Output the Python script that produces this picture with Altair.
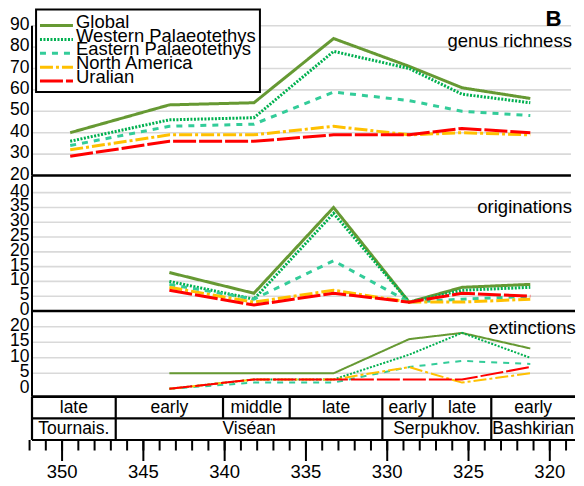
import altair as alt
import pandas as pd

FONT = "Liberation Sans"

# ---------------- data ----------------
AGES = [349.5, 343.4, 338.2, 333.3, 328.65, 325.4, 321.2]       # Ma
SERIES = ["Global", "Western Palaeotethys", "Eastern Palaeotethys", "North America", "Uralian"]
COLORS = ["#669933", "#00B050", "#33CC99", "#FFC000", "#FF0000"]
DASHES = [[1, 0], [2, 1.5], [6, 6], [13, 3, 3, 3], [23, 3]]

RICHNESS = {
    "Global": [40, 53, 54, 84, 71, 61, 56],
    "Western Palaeotethys": [36, 46, 47, 78, 70, 58, 54],
    "Eastern Palaeotethys": [34, 43, 44, 59, 55, 50, 48],
    "North America": [32, 39, 39, 43, 39, 40, 39],
    "Uralian": [29, 36, 36, 39, 39, 42, 40],
}
ORIG_AGES = [343.4, 338.2, 333.3, 328.65, 325.4, 321.2]
ORIGINATIONS = {
    "Global": [13, 6, 35, 3, 8, 9],
    "Western Palaeotethys": [10, 4, 33, 3, 7, 8],
    "Eastern Palaeotethys": [9, 4, 17, 3, 4, 5],
    "North America": [8, 3, 7, 3, 3, 4],
    "Uralian": [7, 2, 6, 3, 6, 5],
}
EXT_AGES = [343.4, 338.2, 333.3, 328.65, 325.4, 321.2]
EXTINCTIONS = {
    "Global": [5, 5, 5, 16, 18, 13],
    "Western Palaeotethys": [0, 3, 3, 11, 18, 10],
    "Eastern Palaeotethys": [0, 2, 2, 7, 9, 8],
    "North America": [0, 3, 3, 7, 2, 5],
    "Uralian": [0, 3, 3, 3, 3, 7],
}

TOP_TICKS = [90, 80, 70, 60, 50, 40, 30, 20]
TOP_GRID = [90, 80, 70, 60, 50, 40, 30]
MID_TICKS = [40, 35, 30, 25, 20, 15, 10, 5, 0]
MID_GRID = [40, 35, 30, 25, 20, 15, 10, 5]
BOT_TICKS = [20, 15, 10, 5, 0]
BOT_GRID = [20, 15, 10, 5]

SUBSTAGES = ["late", "early", "middle", "late", "early", "late", "early"]
STAGES = ["Tournais.", "Viséan", "Serpukhov.", "Bashkirian"]
X_LEFT = 351.85
X_GRID_END = 318.7
X_RIGHT = 318.45
SUB_EDGES = [X_LEFT, 346.7, 340.1, 336.0, 330.3, 327.2, 323.6, X_RIGHT]
STAGE_EDGES = [X_LEFT, 346.7, 330.3, 323.6, X_RIGHT]

MINOR_TICKS = list(range(352, 318, -1))
MAJOR_TICKS = [350, 345, 340, 335, 330, 325, 320]

# legend frame (x in Ma, y in legend rows)
LEG_BOX = (351.60, 337.83, -1.16, 4.8)
LEG_SYM = (351.36, 349.33)
LEG_TXT = 349.14

# ---------------- scales ----------------
XS = alt.Scale(domain=[X_LEFT, X_RIGHT], range=[24, 567], zero=False, nice=False)
TOP_Y = alt.Scale(domain=[20, 90], range=[167.5, 17.7], zero=False, nice=False)
MID_Y = alt.Scale(domain=[0, 45.8], range=[303, 167.5], zero=False, nice=False)
BOT_Y = alt.Scale(domain=[-2.54, 25.06], range=[388.7, 303], zero=False, nice=False)
TAB_Y = alt.Scale(domain=[0, 2], range=[388.7, 432], zero=False, nice=False)
AX_Y = alt.Scale(domain=[0, 1], range=[432, 453], zero=False, nice=False)
LEG_Y = alt.Scale(domain=[0, 4], range=[17.5, 73], zero=False, nice=False)

COLOR_SCALE = alt.Scale(domain=SERIES, range=COLORS)
DASH_SCALE = alt.Scale(domain=SERIES, range=DASHES)


def long_df(ages, table):
    rows = []
    for s in SERIES:
        for a, v in zip(ages, table[s]):
            rows.append({"age": a, "value": v, "series": s})
    return pd.DataFrame(rows)


def X(field):
    return alt.X(field, type="quantitative", scale=XS, axis=None)


def series_enc():
    return dict(
        color=alt.Color("series:N", scale=COLOR_SCALE, legend=None),
        strokeDash=alt.StrokeDash("series:N", scale=DASH_SCALE, legend=None),
    )


def panel(ages, table, ys, ticks, grid, base, top, line_w, base_end, title, title_pos):
    g = alt.Chart(pd.DataFrame({"v": grid, "x0": X_LEFT, "x1": X_GRID_END})).mark_rule(
        color="#D9D9D9", strokeWidth=1.6
    ).encode(x=X("x0"), x2="x1:Q", y=alt.Y("v:Q", scale=ys, axis=None))

    b = alt.Chart(pd.DataFrame({"v": [base], "x0": X_LEFT, "x1": base_end})).mark_rule(
        color="black", strokeWidth=2.6
    ).encode(x=X("x0"), x2="x1:Q", y=alt.Y("v:Q", scale=ys, axis=None))

    ax = alt.Chart(pd.DataFrame({"x": [X_LEFT], "y0": [base], "y1": [top]})).mark_rule(
        color="black", strokeWidth=2
    ).encode(x=X("x"), y=alt.Y("y0:Q", scale=ys, axis=None), y2="y1:Q")

    lines = alt.Chart(long_df(ages, table)).mark_line(
        strokeWidth=line_w, strokeCap="butt", strokeJoin="miter"
    ).encode(x=X("age"), y=alt.Y("value:Q", scale=ys, axis=None), **series_enc())

    lab = alt.Chart(pd.DataFrame({"v": ticks, "x": 352.0, "t": [str(t) for t in ticks]})).mark_text(
        align="right", baseline="middle", font=FONT, fontSize=17.5, color="black", dy=-1
    ).encode(x=X("x"), y=alt.Y("v:Q", scale=ys, axis=None), text="t:N")

    tt = alt.Chart(pd.DataFrame({"x": [title_pos[0]], "v": [title_pos[1]], "t": [title]})).mark_text(
        align="right", baseline="alphabetic", font=FONT, fontSize=18.5, color="black"
    ).encode(x=X("x"), y=alt.Y("v:Q", scale=ys, axis=None), text="t:N")

    return alt.layer(g, b, ax, lines, lab, tt)


top_panel = panel(AGES, RICHNESS, TOP_Y, TOP_TICKS, TOP_GRID, 20, 90, 3, X_GRID_END,
                  "genus richness", (318.64, 80.2))
b_label = alt.Chart(pd.DataFrame({"x": [319.27], "v": [89.86], "t": ["B"]})).mark_text(
    align="right", baseline="alphabetic", font=FONT, fontSize=22.3, fontWeight="bold", color="black"
).encode(x=X("x"), y=alt.Y("v:Q", scale=TOP_Y, axis=None), text="t:N")
top_panel = alt.layer(top_panel, b_label)

mid_panel = panel(ORIG_AGES, ORIGINATIONS, MID_Y, MID_TICKS, MID_GRID, 0, 45.8, 3, X_RIGHT,
                  "originations", (318.64, 33.2))
bot_panel = panel(EXT_AGES, EXTINCTIONS, BOT_Y, BOT_TICKS, BOT_GRID, -2.54, 25.06, 2, X_RIGHT,
                  "extinctions", (318.4, 17.56))

# ---------------- legend ----------------
leg_box = alt.Chart(pd.DataFrame({"x0": [LEG_BOX[0]], "x1": [LEG_BOX[1]],
                                  "y0": [LEG_BOX[2]], "y1": [LEG_BOX[3]]})).mark_rect(
    fill="white", stroke="black", strokeWidth=2
).encode(x=X("x0"), x2="x1:Q", y=alt.Y("y0:Q", scale=LEG_Y, axis=None), y2="y1:Q")
leg_df = pd.DataFrame({"series": SERIES, "row": list(range(len(SERIES))),
                       "x0": LEG_SYM[0], "x1": LEG_SYM[1], "xt": LEG_TXT})
leg_sym = alt.Chart(leg_df).mark_rule(strokeWidth=3, strokeCap="butt").encode(
    x=X("x0"), x2="x1:Q", y=alt.Y("row:Q", scale=LEG_Y, axis=None), **series_enc()
)
leg_txt = alt.Chart(leg_df).mark_text(
    align="left", baseline="alphabetic", font=FONT, fontSize=18.4, color="black", dy=2.2
).encode(x=X("xt"), y=alt.Y("row:Q", scale=LEG_Y, axis=None), text="series:N")
legend = alt.layer(leg_box, leg_sym, leg_txt)

# ---------------- stratigraphic table ----------------
h_df = pd.DataFrame({"y": [0, 1, 2], "x0": X_LEFT, "x1": X_RIGHT, "w": [2.6, 2.2, 2.2]})
h_lines = alt.Chart(h_df).mark_rule(color="black").encode(
    x=X("x0"), x2="x1:Q", y=alt.Y("y:Q", scale=TAB_Y, axis=None),
    strokeWidth=alt.StrokeWidth("w:Q", scale=None),
)
v_rows = [{"x": X_LEFT, "y0": 0, "y1": 2}]
v_rows += [{"x": e, "y0": 0, "y1": 1} for e in SUB_EDGES[1:-1]]
v_rows += [{"x": e, "y0": 1, "y1": 2} for e in STAGE_EDGES[1:-1]]
v_lines = alt.Chart(pd.DataFrame(v_rows)).mark_rule(color="black", strokeWidth=2.2).encode(
    x=X("x"), y=alt.Y("y0:Q", scale=TAB_Y, axis=None), y2="y1:Q"
)
t_rows = [{"x": (SUB_EDGES[i] + SUB_EDGES[i + 1]) / 2, "y": 0.5, "t": s} for i, s in enumerate(SUBSTAGES)]
t_rows += [{"x": (STAGE_EDGES[i] + STAGE_EDGES[i + 1]) / 2, "y": 1.5, "t": s} for i, s in enumerate(STAGES)]
t_text = alt.Chart(pd.DataFrame(t_rows)).mark_text(
    align="center", baseline="middle", font=FONT, fontSize=17.5, color="black"
).encode(x=X("x"), y=alt.Y("y:Q", scale=TAB_Y, axis=None), text="t:N")
table = alt.layer(h_lines, v_lines, t_text)

# ---------------- time axis ----------------
minor = alt.Chart(pd.DataFrame({"x": MINOR_TICKS, "y0": 0, "y1": 0.5})).mark_rule(
    color="black", strokeWidth=2
).encode(x=X("x"), y=alt.Y("y0:Q", scale=AX_Y, axis=None), y2="y1:Q")
major = alt.Chart(pd.DataFrame({"x": MAJOR_TICKS, "y0": 0, "y1": 1})).mark_rule(
    color="black", strokeWidth=2
).encode(x=X("x"), y=alt.Y("y0:Q", scale=AX_Y, axis=None), y2="y1:Q")
major_lab = alt.Chart(pd.DataFrame({"x": MAJOR_TICKS, "y": 1.5, "t": [str(t) for t in MAJOR_TICKS]})).mark_text(
    align="center", baseline="middle", font=FONT, fontSize=18.5, color="black"
).encode(x=X("x"), y=alt.Y("y:Q", scale=AX_Y, axis=None), text="t:N")
axis = alt.layer(minor, major, major_lab)

chart = alt.layer(top_panel, mid_panel, bot_panel, legend, table, axis).resolve_scale(
    y="independent"
).properties(
    width=568, height=478, autosize=alt.AutoSizeParams(type="none"), padding=0
).configure_view(stroke=None)

chart.save("out.html", embed_options={"renderer": "svg", "actions": False})
